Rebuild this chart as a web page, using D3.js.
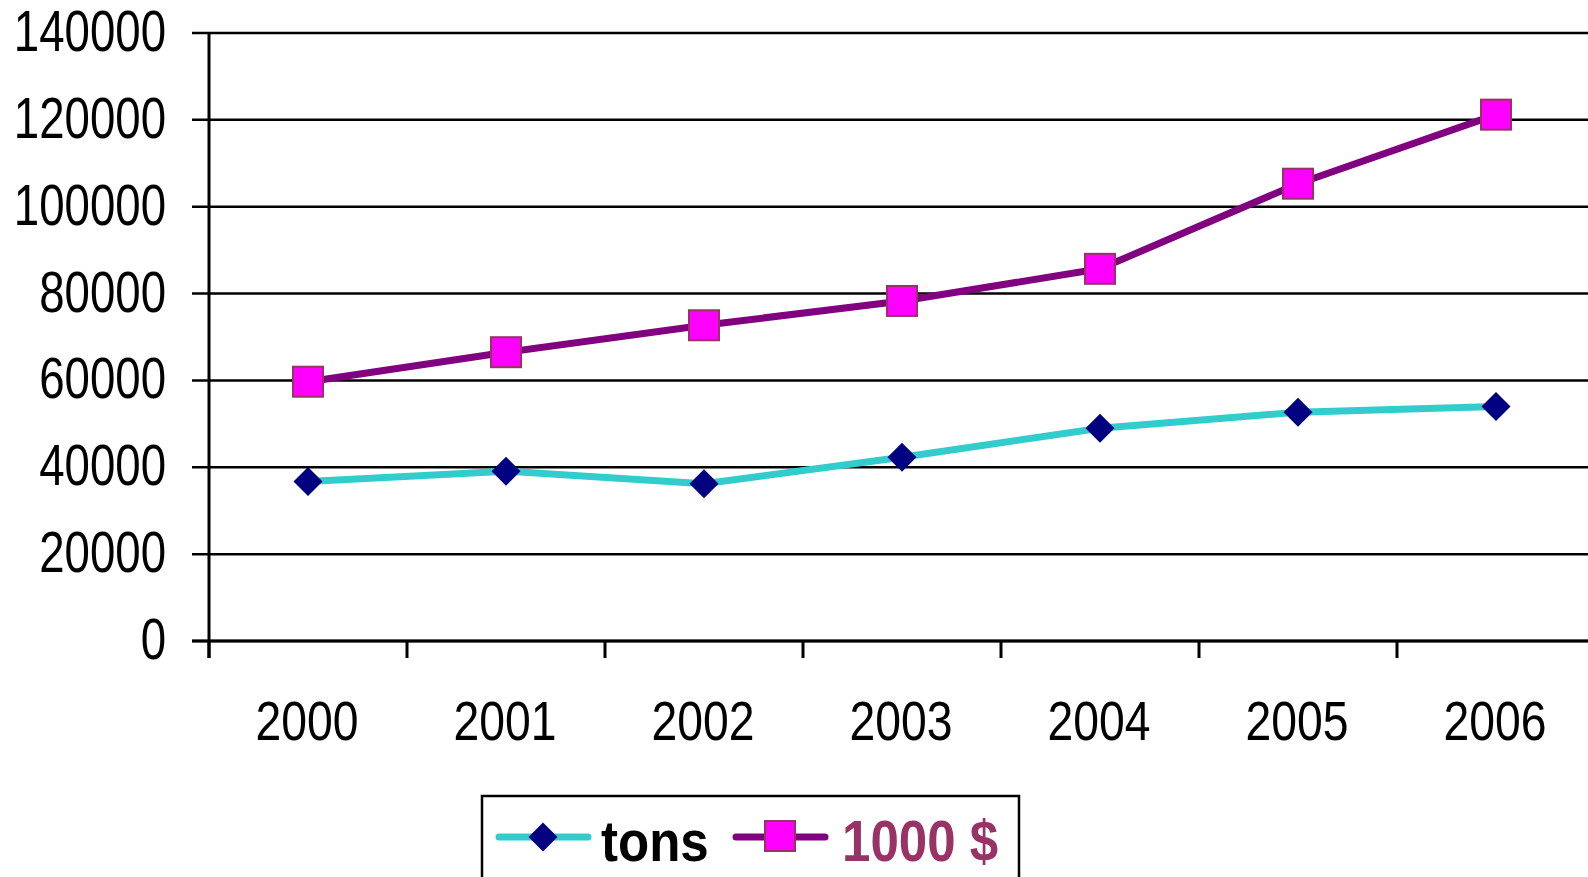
<!DOCTYPE html>
<html><head><meta charset="utf-8">
<script src="https://cdn.jsdelivr.net/npm/d3@7"></script>
<style>html,body{margin:0;padding:0;background:#fff;overflow:hidden}</style>
</head><body>
<svg id="c" width="1588" height="877"></svg>
<script>
const years = ["2000","2001","2002","2003","2004","2005","2006"];
const tons = [36700, 39100, 36200, 42300, 49000, 52700, 54000];
const dollars = [59700, 66500, 72700, 78300, 85700, 105300, 121200];
const yTicks = [0,20000,40000,60000,80000,100000,120000,140000];
const seriesNames = ["tons", "1000 $"];

(function(){
const svg = d3.select("#c");
const pl = 209, pr = 1595, pt = 33, pb = 641;
const x = d3.scaleBand().domain(years).range([pl, pr]);
const y = d3.scaleLinear().domain([0,140000]).range([pb, pt]);
const FONT = "'Liberation Sans', Arial, sans-serif";

function sText(g, tx, ty, txt, size, sx, anchor, weight, fill){
  g.append("text").attr("transform", `translate(${tx},${ty}) scale(${sx},1)`)
   .attr("text-anchor", anchor).attr("font-family", FONT).attr("font-size", size)
   .attr("font-weight", weight||"normal").attr("fill", fill||"#000").text(txt);
}

const grid = svg.append("g");
yTicks.forEach(v=>{
  grid.append("line").attr("x1", pl-17).attr("x2", 1588).attr("y1", y(v)).attr("y2", y(v))
    .attr("stroke","#000").attr("stroke-width",2.5);
  sText(grid, 166, y(v)+18, String(v), 57, 0.80, "end");
});
svg.append("line").attr("x1",pl).attr("x2",pl).attr("y1",pt).attr("y2",pb+17)
  .attr("stroke","#000").attr("stroke-width",3);
years.forEach((yr,i)=>{
  const xx = x(yr);
  svg.append("line").attr("x1",xx).attr("x2",xx).attr("y1",pb).attr("y2",pb+17)
    .attr("stroke","#000").attr("stroke-width",3);
  sText(svg, xx + x.bandwidth()/2 - 1, 739.5, yr, 56, 0.827, "middle");
});
svg.append("line").attr("x1",pl-17).attr("x2",1588).attr("y1",pb).attr("y2",pb)
  .attr("stroke","#000").attr("stroke-width",3);

const cx = d => x(d) + x.bandwidth()/2;
const line = d3.line().x((d,i)=>cx(years[i])).y(d=>y(d));

svg.append("path").datum(dollars).attr("d", line).attr("fill","none")
  .attr("stroke","#800080").attr("stroke-width",7).attr("stroke-linejoin","round");
svg.append("path").datum(tons).attr("d", line).attr("fill","none")
  .attr("stroke","#33CCCC").attr("stroke-width",7).attr("stroke-linejoin","round");

const diamond = (px,py,hw,hh)=>`M${px},${py-hh}L${px+hw},${py}L${px},${py+hh}L${px-hw},${py}Z`;
svg.append("g").selectAll("path").data(tons).join("path")
  .attr("d",(d,i)=>diamond(cx(years[i]), y(d), 14.5, 14.5)).attr("fill","#000080");
svg.append("g").selectAll("rect").data(dollars).join("rect")
  .attr("x",(d,i)=>cx(years[i])-15).attr("y",d=>y(d)-15).attr("width",30).attr("height",30)
  .attr("fill","#FF00FF").attr("stroke","#993366").attr("stroke-width",2);

const lg = svg.append("g");
lg.append("rect").attr("x",482).attr("y",796).attr("width",537).attr("height",120)
  .attr("fill","#fff").attr("stroke","#000").attr("stroke-width",2.5);
lg.append("line").attr("x1",499).attr("x2",588).attr("y1",837).attr("y2",837)
  .attr("stroke","#33CCCC").attr("stroke-width",7).attr("stroke-linecap","round");
lg.append("path").attr("d",diamond(543,837,14.5,14.5)).attr("fill","#000080");
sText(lg, 601, 861, seriesNames[0], 58, 0.88, "start", "bold", "#000");
lg.append("line").attr("x1",736).attr("x2",825).attr("y1",837).attr("y2",837)
  .attr("stroke","#800080").attr("stroke-width",7).attr("stroke-linecap","round");
lg.append("rect").attr("x",765).attr("y",821).attr("width",30).attr("height",30)
  .attr("fill","#FF00FF").attr("stroke","#993366").attr("stroke-width",2);
sText(lg, 842, 861, seriesNames[1], 58, 0.88, "start", "bold", "#993366");
})();
</script>
</body></html>
